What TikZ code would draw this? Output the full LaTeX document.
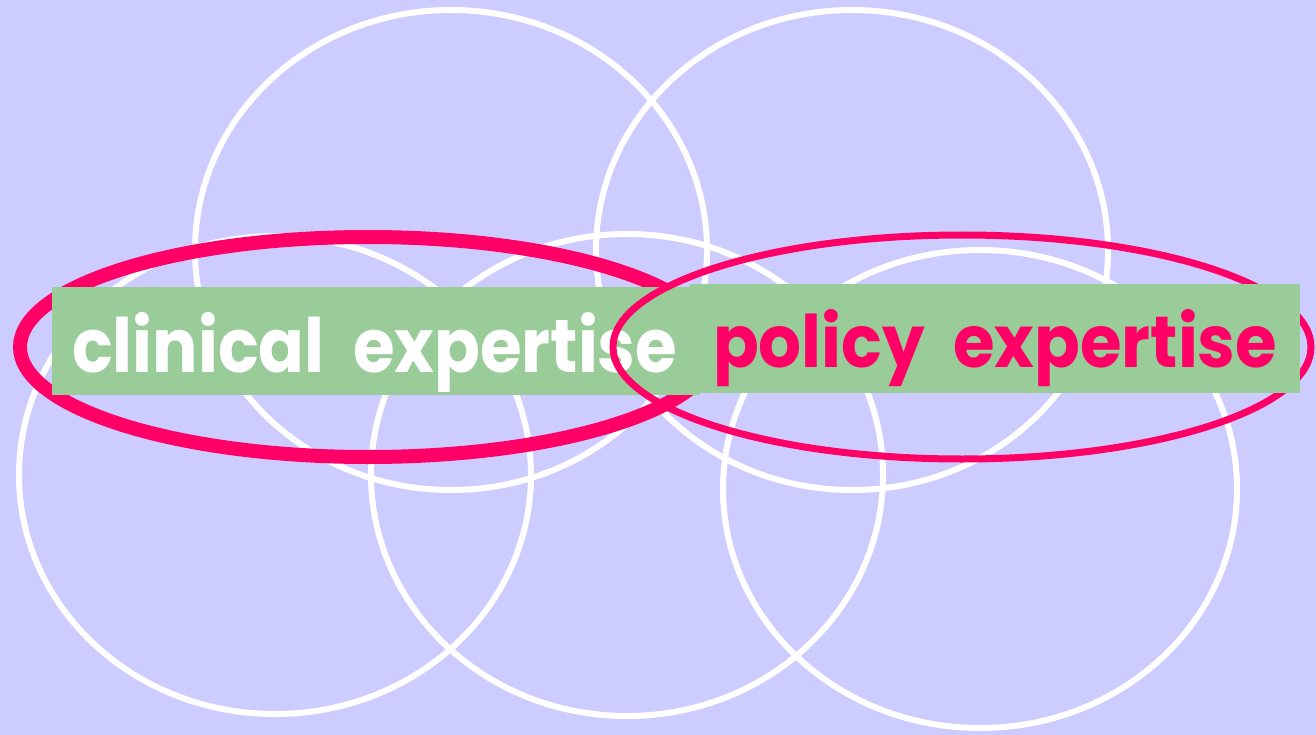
\documentclass[tikz,border=0pt]{standalone}
\usepackage{fontspec}
\setmainfont{Poppins}
\definecolor{bgblue}{HTML}{CCCCFF}
\definecolor{hotpink}{HTML}{FF0066}
\definecolor{bandgreen}{HTML}{99CC99}
\begin{document}
\begin{tikzpicture}[x=1pt,y=-1pt,
  ring/.style={draw=white,line width=6pt},
  loopthick/.style={draw=hotpink,line width=14pt},
  loopthin/.style={draw=hotpink,line width=7pt},
  band/.style={fill=bandgreen},
  lbl/.style={inner sep=0pt,outer sep=0pt,anchor=base west,font=\bfseries}]
\fill[bgblue] (0,0) rectangle (1316,735);
\useasboundingbox (0,0) rectangle (1316,735);
% white rings
\draw[ring] (451,250) ellipse [x radius=256, y radius=240];
\draw[ring] (852,250) ellipse [x radius=256, y radius=240];
\draw[ring] (275,475) ellipse [x radius=256, y radius=239];
\draw[ring] (627,475) ellipse [x radius=256, y radius=241];
\draw[ring] (980,489) ellipse [x radius=257, y radius=239];
% left loop and band
\draw[loopthick] (368,347) ellipse [x radius=348, y radius=110];
\fill[band] (52,287) rectangle (700,395);
\node[lbl,text=white] (clinical) at (72,372) {\resizebox{605pt}{60pt}{clinical\hspace{0.42em}expertise}};
% right loop and band
\draw[loopthin] (962,347) ellipse [x radius=349, y radius=112];
\fill[band] (690,284) rectangle (1300,393);
\node[lbl,text=hotpink] (policy) at (713,367) {\resizebox{564pt}{58pt}{policy\hspace{0.42em}expertise}};
\end{tikzpicture}
\end{document}
